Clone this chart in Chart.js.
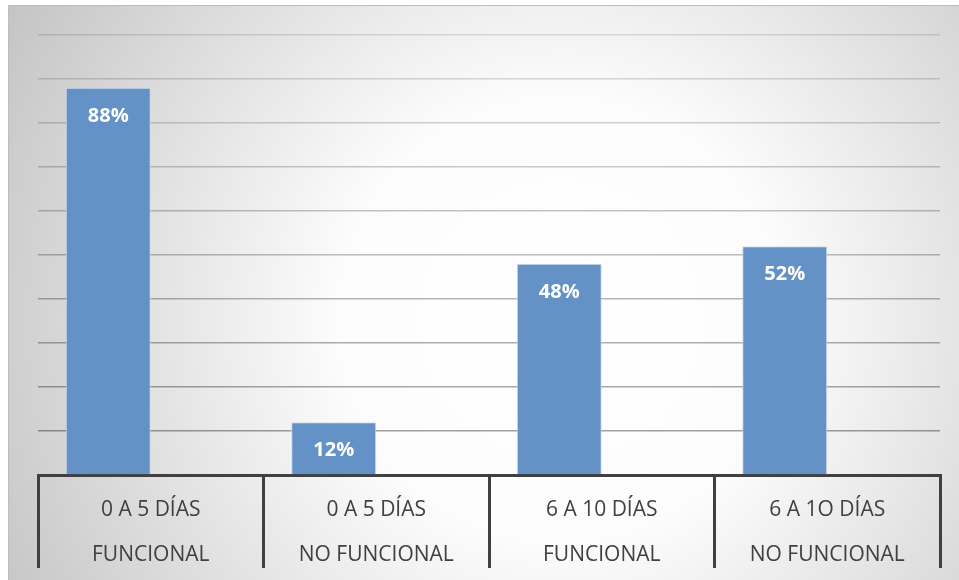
<!DOCTYPE html>
<html>
<head>
<meta charset="utf-8">
<script src="https://cdn.jsdelivr.net/npm/chart.js@4.4.1/dist/chart.umd.min.js"></script>
<style>
  html, body { margin: 0; padding: 0; background: #fff; }
  .chart-box { width: 959px; height: 580px; position: relative; }
</style>
</head>
<body>
<div class="chart-box"><canvas class="js-chart"></canvas></div>
<script>
// categorías (dos líneas cada una)
const categories = [
  ['0 A 5 DÍAS', 'FUNCIONAL'],
  ['0 A 5 DÍAS', 'NO FUNCIONAL'],
  ['6 A 10 DÍAS', 'FUNCIONAL'],
  ['6 A 1O DÍAS', 'NO FUNCIONAL'],
];
// porcentajes
const values = [88, 12, 48, 52];
// serie vacía (ocupa el hueco a la derecha de cada barra)
const emptySeries = [];
const yTicks = [0, 10, 20, 30, 40, 50, 60, 70, 80, 90, 100];

const bgPlugin = {
  id: 'bg',
  beforeDraw(chart) {
    const c = chart.ctx;
    const w = chart.width, h = chart.height;
    c.save();
    const g = c.createRadialGradient(560, 320, 40, 560, 320, 650);
    g.addColorStop(0, '#ffffff');
    g.addColorStop(0.3, '#fcfcfc');
    g.addColorStop(1, '#c2c2c2');
    c.fillStyle = g;
    c.fillRect(8, 6, w - 8, h - 6);
    c.strokeStyle = '#bdbdbd';
    c.lineWidth = 1;
    c.beginPath();
    c.moveTo(8.5, h);
    c.lineTo(8.5, 5.5);
    c.lineTo(w, 5.5);
    c.stroke();
    c.restore();
  },
};

const labelPlugin = {
  id: 'barLabels',
  afterDraw(chart) {
    const c = chart.ctx;
    c.save();
    c.font = 'bold 20px "Open Sans"';
    c.fillStyle = '#ffffff';
    c.textAlign = 'center';
    c.textBaseline = 'middle';
    chart.getDatasetMeta(0).data.forEach((bar, i) => {
      c.fillText(values[i] + '%', bar.x, bar.y + 28);
    });
    c.restore();
  },
};

const ctx = document.querySelector('.js-chart').getContext('2d');

new Chart(ctx, {
  type: 'bar',
  data: {
    labels: categories,
    datasets: [
      {
        label: 'Porcentaje',
        data: values,
        backgroundColor: '#6592c6',
        borderColor: '#cfdcec',
        borderWidth: 1,
        categoryPercentage: 0.754,
        barPercentage: 1,
      },
      {
        label: '',
        data: emptySeries,
        backgroundColor: 'transparent',
        categoryPercentage: 0.754,
        barPercentage: 1,
      },
    ],
  },
  options: {
    responsive: true,
    maintainAspectRatio: false,
    animation: false,
    layout: { padding: { left: 38, right: 19, top: 35, bottom: 5 } },
    plugins: {
      legend: { display: false },
      tooltip: { enabled: false },
    },
    scales: {
      x: {
        afterFit: scale => { scale.height = 100; },
        grid: {
          offset: true,
          drawOnChartArea: false,
          tickLength: 93,
          lineWidth: 3,
          color: '#404040',
        },
        border: { display: true, color: '#404040', width: 3 },
        ticks: {
          padding: -80,
          maxRotation: 0,
          autoSkip: false,
          color: '#404040',
          font: { family: '"Open Sans"', size: 21, lineHeight: 45 / 21 },
        },
      },
      y: {
        min: yTicks[0],
        max: yTicks[yTicks.length - 1],
        z: 1,
        ticks: { display: false, stepSize: 10 },
        border: { display: false },
        grid: {
          drawTicks: false,
          lineWidth: 1.5,
          color: c => {
            const v = c.tick ? c.tick.value : 0;
            if (v === 0) return 'rgba(0,0,0,0)';
            const a = 0.12 + (100 - v) / 90 * 0.25;
            return 'rgba(0,0,0,' + a.toFixed(3) + ')';
          },
        },
      },
    },
  },
  plugins: [bgPlugin, labelPlugin],
});
</script>
</body>
</html>
